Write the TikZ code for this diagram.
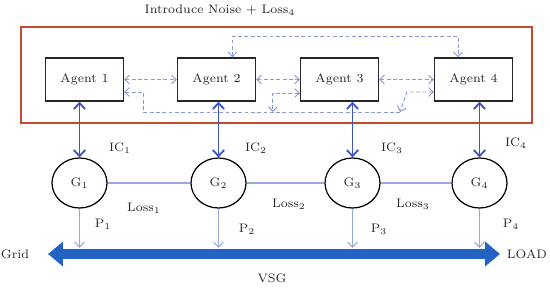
\documentclass[tikz,border=0pt]{standalone}
\usepackage{amsmath,amssymb}
\usepackage{xcolor}
\usepackage{tikz}
\usetikzlibrary{arrows.meta,shapes.geometric}
\definecolor{framered}{RGB}{196,74,48}
\definecolor{msgblue}{RGB}{140,152,214}
\definecolor{icblue}{RGB}{62,84,196}
\definecolor{wireblue}{RGB}{150,170,222}
\definecolor{busblue}{RGB}{36,98,196}

\begin{document}
\begin{tikzpicture}[x=0.02cm,y=-0.02cm,every node/.style={font=\fontsize{7}{8.5}\selectfont,text=black!85},
agent/.style={draw=black!85,line width=0.8pt,fill=white,minimum width=1.56cm,minimum height=0.86cm,inner sep=0pt},
gen/.style={ellipse,draw=black,line width=0.7pt,minimum width=1.1cm,minimum height=1.0cm,inner sep=0pt},
msg/.style={draw=msgblue,line width=0.55pt,dash pattern=on 2.2pt off 1.4pt,{Straight Barb[length=2.6pt,width=5pt]}-{Straight Barb[length=2.6pt,width=5pt]}},
ic/.style={draw=icblue,line width=1.05pt,{Straight Barb[length=3.4pt,width=6.4pt]}-{Straight Barb[length=3.4pt,width=6.4pt]}},
wire/.style={draw=wireblue,line width=0.6pt},
parrow/.style={draw=wireblue,line width=0.6pt,-{Straight Barb[length=3pt,width=5.6pt]}},
bus/.style={draw=busblue,line width=0.2cm,{Triangle[length=0.3cm,width=0.48cm]}-{Triangle[length=0.3cm,width=0.48cm]}}]
\useasboundingbox (0,0) rectangle (550,291);
\node (title) at (220,10) {Introduce Noise + Loss$_4$};
\draw[draw=framered,line width=0.7pt] (21,27) rectangle (532,123);
\node[agent] (a1) at (84.5,79.5) {Agent 1};
\node[agent] (a2) at (216.5,79.5) {Agent 2};
\node[agent] (a3) at (339.5,79.5) {Agent 3};
\node[agent] (a4) at (473.5,79.5) {Agent 4};
\draw[msg] (a1.east) -- (a2.west);
\draw[msg] (a2.east) -- (a3.west);
\draw[msg] (a3.east) -- (a4.west);
\draw[msg] ([xshift=0.32cm]a2.north) -- ++(0,0.42cm) -| ([xshift=-0.31cm]a4.north);
\coordinate (lb) at (143,112);
\coordinate (rb) at (400,112);
\draw[msg,{Straight Barb[length=2.6pt,width=5pt]}-] ([yshift=-0.25cm]a1.east) -| (lb) -- (rb);
\draw[msg] ([yshift=-0.27cm]a3.west) -- ++(-0.54cm,0) -- ++(0,-0.38cm);
\draw[msg] ([yshift=-0.25cm]a4.west) -- ++(-0.54cm,0) -- (rb);
\node[gen] (g1) at (79.5,183) {G$_1$};
\node[gen] (g2) at (218.5,183) {G$_2$};
\node[gen] (g3) at (352.5,183) {G$_3$};
\node[gen] (g4) at (479.5,183) {G$_4$};
\draw[ic] (g1.north |- a1.south) -- (g1.north);
\draw[ic] (g2.north |- a2.south) -- (g2.north);
\draw[ic] (g3.north |- a3.south) -- (g3.north);
\draw[ic] (g4.north |- a4.south) -- (g4.north);
\draw[wire] (g1) -- (g2);
\draw[wire] (g2) -- (g3);
\draw[wire] (g3) -- (g4);
\coordinate (bustop) at (0,248);
\coordinate (busl) at (48,254);
\coordinate (busr) at (500,254);
\draw[bus] (busl) -- (busr);
\draw[parrow] (g1.south) -- (g1.south |- bustop);
\draw[parrow] (g2.south) -- (g2.south |- bustop);
\draw[parrow] (g3.south) -- (g3.south |- bustop);
\draw[parrow] (g4.south) -- (g4.south |- bustop);
\node (ic1) at (120,148) {IC$_1$};
\node (ic2) at (256,148) {IC$_2$};
\node (ic3) at (392,148) {IC$_3$};
\node (ic4) at (516,143) {IC$_4$};
\node (loss1) at (144,208) {Loss$_1$};
\node (loss2) at (289,204) {Loss$_2$};
\node (loss3) at (413,204) {Loss$_3$};
\node (p1) at (103,224) {P$_1$};
\node (p2) at (247,229) {P$_2$};
\node (p3) at (379,229) {P$_3$};
\node (p4) at (511,224) {P$_4$};
\node (grid) at (15,254) {Grid};
\node (load) at (527,254) {LOAD};
\node (vsg) at (272,278) {VSG};
\end{tikzpicture}
\end{document}
